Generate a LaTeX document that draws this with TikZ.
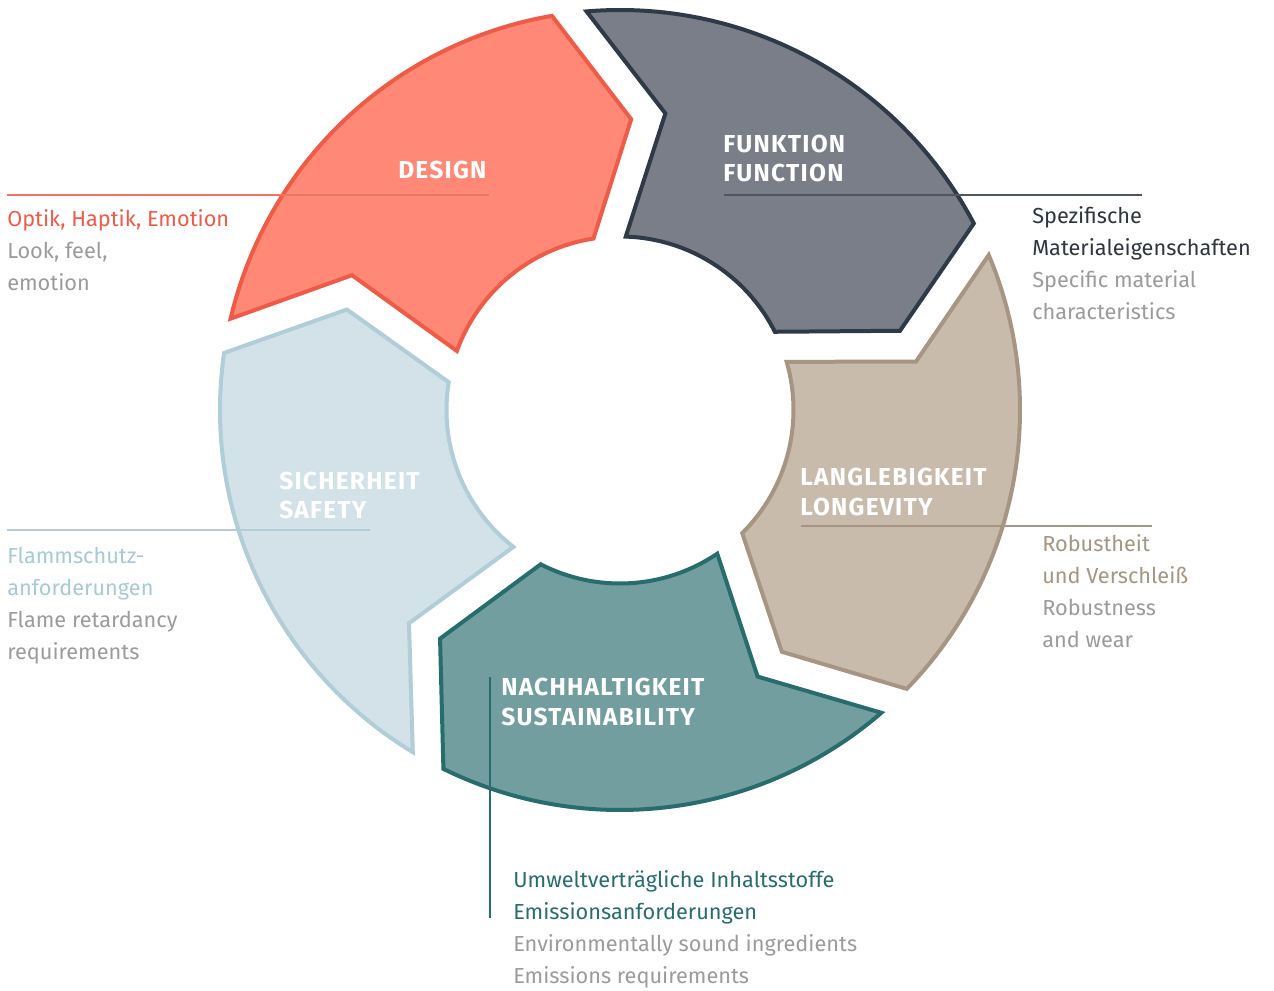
\documentclass[tikz,border=0pt]{standalone}
\usepackage{fontspec}
\setmainfont{Fira Sans}
\newfontfamily\headfont[LetterSpace=5]{Fira Sans}

\definecolor{designfill}{HTML}{FF8877}
\definecolor{designline}{HTML}{EE5B46}
\definecolor{functionfill}{HTML}{797E88}
\definecolor{functionline}{HTML}{2E3A47}
\definecolor{longevityfill}{HTML}{C9BBAB}
\definecolor{longevityline}{HTML}{A69582}
\definecolor{sustainfill}{HTML}{739E9F}
\definecolor{sustainline}{HTML}{276D6E}
\definecolor{safetyfill}{HTML}{D3E1E8}
\definecolor{safetyline}{HTML}{B0CDD8}
\definecolor{safetytext}{HTML}{A6CAD6}
\definecolor{softgray}{HTML}{9B9B9B}
\definecolor{darktext}{HTML}{2E3540}

\begin{document}
\begin{tikzpicture}[x=0.75pt, y=0.75pt,
    segment/.style={line width=3pt, line join=miter},
    leader/.style={line width=1.1pt},
    heading/.style={anchor=base west, inner sep=0pt, text=white,
      font=\headfont\fontsize{18.4}{22}\selectfont\bfseries},
    body/.style={anchor=base west, inner sep=0pt,
      font=\fontsize{16.3}{20}\selectfont}]
\useasboundingbox (0,0) rectangle (1274,990);

\begin{scope}[shift={(620,580)}]
% Drawing segment Design
\draw [segment, fill=designfill, draw=designline] (166.8:400) -- (153.3:300) -- (160.1:173.5)
  arc [start angle=160.1, end angle=98.8, radius=173.5] -- (87.8:291) -- (99.8:400)
  arc [start angle=99.8, end angle=166.8, radius=400] -- cycle;

% Drawing segment Function
\draw [segment, fill=functionfill, draw=functionline] (94.8:400) -- (81.3:300) -- (88.1:173.5)
  arc [start angle=88.1, end angle=26.8, radius=173.5] -- (15.8:291) -- (27.8:400)
  arc [start angle=27.8, end angle=94.8, radius=400] -- cycle;

% Drawing segment Longevity
\draw [segment, fill=longevityfill, draw=longevityline] (22.8:400) -- (9.3:300) -- (16.1:173.5)
  arc [start angle=16.1, end angle=-45.2, radius=173.5] -- (-56.2:291) -- (-44.2:400)
  arc [start angle=-44.2, end angle=22.8, radius=400] -- cycle;

% Drawing segment Sustainability
\draw [segment, fill=sustainfill, draw=sustainline] (-49.2:400) -- (-62.7:300) -- (-55.9:173.5)
  arc [start angle=-55.9, end angle=-117.2, radius=173.5] -- (-128.2:291) -- (-116.2:400)
  arc [start angle=-116.2, end angle=-49.2, radius=400] -- cycle;

% Drawing segment Safety
\draw [segment, fill=safetyfill, draw=safetyline] (-121.2:400) -- (-134.7:300) -- (-127.9:173.5)
  arc [start angle=-127.9, end angle=-189.2, radius=173.5] -- (-200.2:291) -- (-188.2:400)
  arc [start angle=-188.2, end angle=-121.2, radius=400] -- cycle;
\end{scope}

% Drawing leader lines
\coordinate (design-a) at (7,795);
\coordinate (design-b) at (489,795);
\draw [leader, designline!85!white] (design-a) -- (design-b);

\coordinate (function-a) at (724,795);
\coordinate (function-b) at (1142,795);
\draw [leader, functionline!85!white] (function-a) -- (function-b);

\coordinate (longevity-a) at (801,464);
\coordinate (longevity-b) at (1152,464);
\draw [leader, longevityline] (longevity-a) -- (longevity-b);

\coordinate (safety-a) at (7,460);
\coordinate (safety-b) at (370,460);
\draw [leader, safetyline] (safety-a) -- (safety-b);

\coordinate (sustain-a) at (490,313);
\coordinate (sustain-b) at (490,72);
\draw [leader, sustainline] (sustain-a) -- (sustain-b);

% Marking headings
\node (design) [heading] at (398,811) {DESIGN};
\node (function-de) [heading] at (723,837.7) {FUNKTION};
\node (function-en) [heading] at (723,808.3) {FUNCTION};
\node (longevity-de) [heading] at (800,504.3) {LANGLEBIGKEIT};
\node (longevity-en) [heading] at (800,474.3) {LONGEVITY};
\node (safety-de) [heading] at (279,500.3) {SICHERHEIT};
\node (safety-en) [heading] at (279,471.3) {SAFETY};
\node (sustain-de) [heading] at (501,295) {NACHHALTIGKEIT};
\node (sustain-en) [heading] at (501,265) {SUSTAINABILITY};

% Marking text Design
\node (design-t1) [body, text=designline] at (7,763.3) {Optik, Haptik, Emotion};
\node (design-t2) [body, text=softgray] at (7,731.5) {Look, feel,};
\node (design-t3) [body, text=softgray] at (7,699.7) {emotion};

% Marking text Function
\node (function-t1) [body, text=darktext] at (1032,766) {Spezifische};
\node (function-t2) [body, text=darktext] at (1032,734) {Materialeigenschaften};
\node (function-t3) [body, text=softgray] at (1032,702) {Specific material};
\node (function-t4) [body, text=softgray] at (1032,670) {characteristics};

% Marking text Longevity
\node (longevity-t1) [body, text=longevityline] at (1042,438.5) {Robustheit};
\node (longevity-t2) [body, text=longevityline] at (1042,406.5) {und Verschleiß};
\node (longevity-t3) [body, text=softgray] at (1042,375) {Robustness};
\node (longevity-t4) [body, text=softgray] at (1042,343) {and wear};

% Marking text Safety
\node (safety-t1) [body, text=safetytext] at (7,426.5) {Flammschutz-};
\node (safety-t2) [body, text=safetytext] at (7,394.7) {anforderungen};
\node (safety-t3) [body, text=softgray] at (7,363) {Flame retardancy};
\node (safety-t4) [body, text=softgray] at (7,331) {requirements};

% Marking text Sustainability
\node (sustain-t1) [body, text=sustainline] at (513,103) {Umweltverträgliche Inhaltsstoffe};
\node (sustain-t2) [body, text=sustainline] at (513,71) {Emissionsanforderungen};
\node (sustain-t3) [body, text=softgray] at (513,39) {Environmentally sound ingredients};
\node (sustain-t4) [body, text=softgray] at (513,7) {Emissions requirements};
\end{tikzpicture}
\end{document}
